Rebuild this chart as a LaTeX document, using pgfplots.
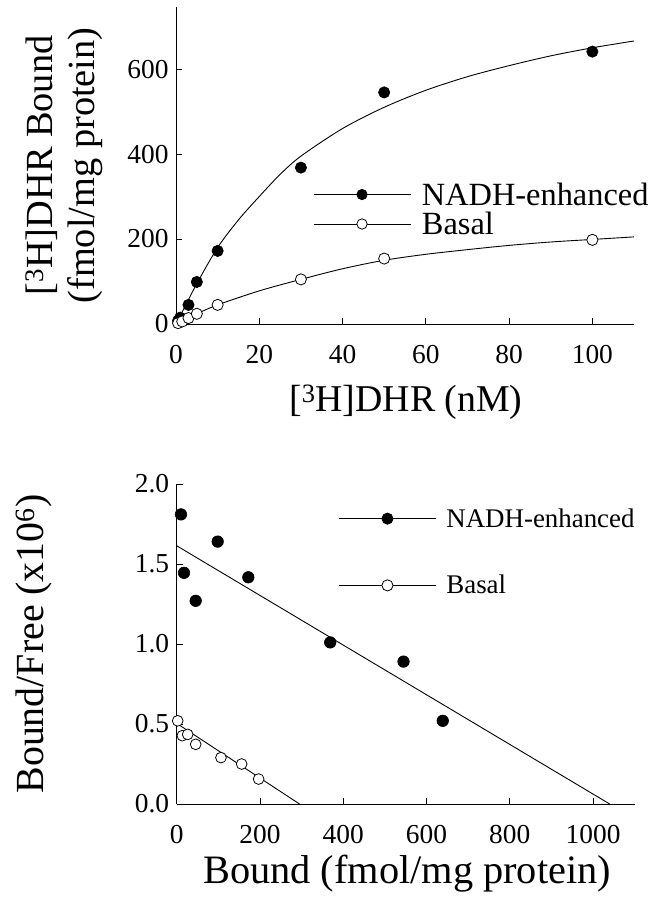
\documentclass[border=0pt]{standalone}
\usepackage{fontspec}
\setmainfont{Liberation Serif}
\usepackage{pgfplots}
\pgfplotsset{compat=1.18}

\pgfplotsset{
  common/.style={
    scale only axis,
    width=458bp,
    axis x line*=bottom,
    axis y line*=left,
    axis line style={line width=0.9pt, black},
    tick align=inside,
    major tick length=6bp,
    tick style={line width=0.9pt, black},
    every tick label/.append style={font=\fontsize{27.5}{27.5}\selectfont},
    /pgf/number format/assume math mode=true,
    /pgf/number format/1000 sep={},
    xticklabel shift=18bp,
    yticklabel shift=4bp,
    clip=false,
  },
  legline/.style={legend image code/.code={
    \draw[mark repeat=2,mark phase=2] plot coordinates {(0bp,0bp) (48.5bp,0bp) (97bp,0bp)};}},
  fdot/.style={only marks, mark=*, mark size=5.7pt, mark options={fill=black, draw=black, line width=0.6pt}},
  odot/.style={only marks, mark=*, mark size=5.6pt, mark options={fill=white, draw=black, line width=0.8pt}},
}

\begin{document}
\begin{tikzpicture}
\useasboundingbox (-176bp,-575bp) rectangle (478bp,324bp);

% ---------------- top panel ----------------
\begin{axis}[common,
  at={(0bp,0bp)}, anchor=south west,
  height=317bp,
  xmin=0, xmax=110, ymin=0, ymax=746,
  xtick={0,20,40,60,80,100},
  ytick={0,200,400,600},
  xlabel={{[}\textsuperscript{3}H]DHR (nM)},
  xlabel style={font=\fontsize{38}{42}\selectfont, at={(axis description cs:0.502,0)}, anchor=base, yshift=-87.5bp, inner sep=0pt},
  ylabel={{[}\textsuperscript{3}H]DHR Bound\\(fmol/mg protein)},
  ylabel style={align=center, font=\fontsize{38.5}{43}\selectfont, at={(axis description cs:-0.1585,0.5)}, anchor=south, inner sep=0pt},
  legend style={draw=none, fill=none, inner sep=0pt, at={(axis description cs:0.299,0.45)}, anchor=north west,
    font=\fontsize{32.5}{32.5}\selectfont, row sep=3.5bp, nodes={inner sep=1bp},
    /tikz/every odd column/.append style={column sep=10bp}},
  legend cell align=left,
]
\addlegendimage{legline, black, line width=0.8pt, mark=*, mark size=5.2pt, mark options={fill=black}}
\addlegendentry{NADH-enhanced}
\addlegendimage{legline, black, line width=0.8pt, mark=*, mark size=5.2pt, mark options={fill=white}}
\addlegendentry{Basal}

% fitted curves
\addplot[black, line width=0.9pt, smooth, forget plot] coordinates {
 (0,0) (2,38) (5,95) (10,180) (15,245) (20,300) (25,352) (30,395) (40,460) (50,510)
 (60,550) (70,582) (80,608) (90,631) (100,650) (110,666)};
\addplot[black, line width=0.9pt, smooth, forget plot] coordinates {
 (0,0) (3,14) (5,24) (10,45) (20,78) (30,105) (40,130) (50,150) (60,164)
 (70,175) (80,185) (90,193) (100,199) (110,205)};
% data
\addplot[fdot, forget plot] coordinates {
 (0.5,8) (1,15) (3,45) (5,99) (10,172) (30,368) (50,545) (100,641)};
\addplot[odot, forget plot] coordinates {
 (0.5,2) (1.5,6) (3,14) (5,24) (10,45) (30,105) (50,154) (100,198)};
\end{axis}

% ---------------- bottom panel ----------------
\begin{axis}[common,
  at={(0.7bp,-480bp)}, anchor=south west,
  height=320bp,
  xmin=0, xmax=1100, ymin=0, ymax=2.0,
  xtick={0,200,400,600,800,1000},
  ytick={0,0.5,1.0,1.5,2.0},
  yticklabel style={/pgf/number format/.cd, fixed, fixed zerofill, precision=1},
  xlabel={Bound (fmol/mg protein)},
  xlabel style={font=\fontsize{40.5}{44}\selectfont, at={(axis description cs:0.503,0)}, anchor=base, yshift=-79bp, inner sep=0pt},
  ylabel={Bound/Free (x10\textsuperscript{6})},
  ylabel style={font=\fontsize{40}{44}\selectfont, at={(axis description cs:-0.272,0.5)}, anchor=south, inner sep=0pt},
  legend style={draw=none, fill=none, inner sep=0pt, at={(axis description cs:0.353,0.927)}, anchor=north west,
    font=\fontsize{27}{27}\selectfont, row sep=44.6bp, nodes={inner sep=1bp},
    /tikz/every odd column/.append style={column sep=9bp}},
  legend cell align=left,
]
\addlegendimage{legline, black, line width=0.8pt, mark=*, mark size=5.6pt, mark options={fill=black}}
\addlegendentry{NADH-enhanced}
\addlegendimage{legline, black, line width=0.8pt, mark=*, mark size=5.6pt, mark options={fill=white}}
\addlegendentry{Basal}

\addplot[black, line width=0.9pt, forget plot] coordinates {(0,1.614) (1040,0)};
\addplot[black, line width=0.9pt, forget plot] coordinates {(0,0.504) (295,0)};
\addplot[fdot, mark size=5.8pt, forget plot] coordinates {
 (10.3,1.81) (17.5,1.445) (45.6,1.27) (98.4,1.64) (172,1.417) (368.7,1.01) (544.8,0.89) (639,0.52)};
\addplot[odot, mark size=5.4pt, forget plot] coordinates {
 (2.4,0.52) (13.5,0.427) (26.4,0.435) (45.6,0.373) (106.3,0.29) (156,0.25) (196.8,0.156)};
\end{axis}
\end{tikzpicture}
\end{document}
